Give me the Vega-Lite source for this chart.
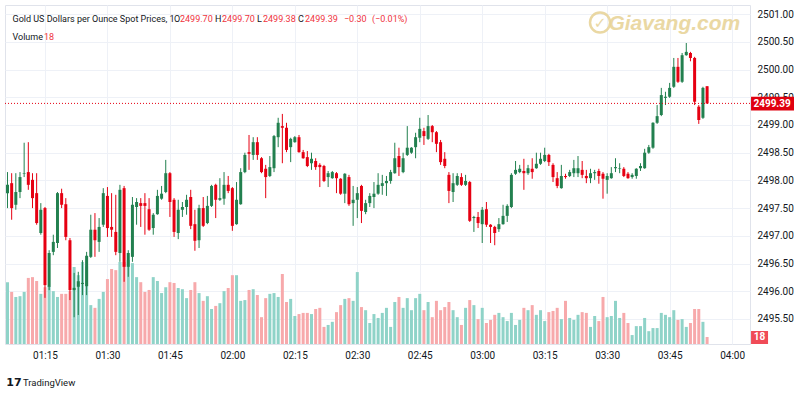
{
"$schema":"https://vega.github.io/schema/vega-lite/v6.json",
"width":745,"height":339,"autosize":"none",
"padding":{"left":5,"top":5,"right":50,"bottom":56},
"background":"#ffffff",
"config":{"view":{"stroke":"#e0e3eb"},"axis":{"labelFont":"Roboto, sans-serif","labelFontSize":10,"labelColor":"#131722","ticks":false,"domain":false,"gridColor":"#eef1f7","gridWidth":1},
 "text":{"font":"Roboto, sans-serif","fontSize":9,"baseline":"middle","align":"left"}},
"datasets":{"candles":[
{"t":"2024-08-20T01:06:00Z","o":2497.77,"h":2498.15,"l":2497.50,"c":2497.92,"v":159},
{"t":"2024-08-20T01:07:00Z","o":2497.95,"h":2498.13,"l":2497.29,"c":2497.50,"v":134},
{"t":"2024-08-20T01:08:00Z","o":2497.56,"h":2498.13,"l":2497.47,"c":2497.79,"v":121},
{"t":"2024-08-20T01:09:00Z","o":2497.79,"h":2498.15,"l":2497.68,"c":2498.06,"v":123},
{"t":"2024-08-20T01:10:00Z","o":2498.12,"h":2498.68,"l":2498.06,"c":2498.13,"v":134},
{"t":"2024-08-20T01:11:00Z","o":2498.15,"h":2498.69,"l":2497.83,"c":2497.92,"v":170},
{"t":"2024-08-20T01:12:00Z","o":2498.01,"h":2498.13,"l":2497.50,"c":2497.68,"v":172},
{"t":"2024-08-20T01:13:00Z","o":2497.77,"h":2498.13,"l":2497.20,"c":2497.23,"v":162},
{"t":"2024-08-20T01:14:00Z","o":2497.05,"h":2497.59,"l":2497.02,"c":2497.47,"v":129},
{"t":"2024-08-20T01:15:00Z","o":2497.50,"h":2497.52,"l":2495.88,"c":2496.11,"v":146},
{"t":"2024-08-20T01:16:00Z","o":2496.08,"h":2496.74,"l":2496.02,"c":2496.69,"v":149},
{"t":"2024-08-20T01:17:00Z","o":2496.71,"h":2497.02,"l":2496.65,"c":2496.89,"v":136},
{"t":"2024-08-20T01:18:00Z","o":2496.87,"h":2497.79,"l":2496.78,"c":2497.77,"v":121},
{"t":"2024-08-20T01:19:00Z","o":2497.77,"h":2497.85,"l":2497.50,"c":2497.56,"v":129},
{"t":"2024-08-20T01:20:00Z","o":2497.57,"h":2497.68,"l":2496.92,"c":2496.98,"v":129},
{"t":"2024-08-20T01:21:00Z","o":2496.92,"h":2496.96,"l":2495.84,"c":2496.02,"v":136},
{"t":"2024-08-20T01:22:00Z","o":2496.02,"h":2496.33,"l":2495.53,"c":2496.06,"v":198},
{"t":"2024-08-20T01:23:00Z","o":2496.08,"h":2496.35,"l":2495.57,"c":2496.18,"v":177},
{"t":"2024-08-20T01:24:00Z","o":2496.13,"h":2496.56,"l":2495.93,"c":2496.15,"v":211},
{"t":"2024-08-20T01:25:00Z","o":2496.09,"h":2496.71,"l":2495.93,"c":2496.64,"v":200},
{"t":"2024-08-20T01:26:00Z","o":2496.62,"h":2497.38,"l":2496.60,"c":2497.11,"v":100},
{"t":"2024-08-20T01:27:00Z","o":2497.11,"h":2497.41,"l":2496.62,"c":2496.92,"v":93},
{"t":"2024-08-20T01:28:00Z","o":2496.89,"h":2497.32,"l":2496.71,"c":2497.16,"v":116},
{"t":"2024-08-20T01:29:00Z","o":2497.20,"h":2497.86,"l":2497.16,"c":2497.77,"v":134},
{"t":"2024-08-20T01:30:00Z","o":2497.72,"h":2497.88,"l":2496.98,"c":2497.14,"v":167},
{"t":"2024-08-20T01:31:00Z","o":2497.16,"h":2497.77,"l":2496.98,"c":2497.11,"v":193},
{"t":"2024-08-20T01:32:00Z","o":2497.07,"h":2497.74,"l":2496.65,"c":2496.71,"v":190},
{"t":"2024-08-20T01:33:00Z","o":2496.69,"h":2497.92,"l":2496.53,"c":2497.83,"v":211},
{"t":"2024-08-20T01:34:00Z","o":2497.86,"h":2497.90,"l":2496.17,"c":2496.44,"v":211},
{"t":"2024-08-20T01:35:00Z","o":2496.44,"h":2496.74,"l":2496.26,"c":2496.69,"v":216},
{"t":"2024-08-20T01:36:00Z","o":2496.62,"h":2497.70,"l":2496.53,"c":2497.56,"v":208},
{"t":"2024-08-20T01:37:00Z","o":2497.52,"h":2497.68,"l":2497.20,"c":2497.61,"v":172},
{"t":"2024-08-20T01:38:00Z","o":2497.59,"h":2497.68,"l":2497.16,"c":2497.54,"v":159},
{"t":"2024-08-20T01:39:00Z","o":2497.59,"h":2497.77,"l":2497.02,"c":2497.54,"v":134},
{"t":"2024-08-20T01:40:00Z","o":2497.48,"h":2497.68,"l":2497.09,"c":2497.11,"v":139},
{"t":"2024-08-20T01:41:00Z","o":2497.14,"h":2497.41,"l":2497.02,"c":2497.38,"v":172},
{"t":"2024-08-20T01:42:00Z","o":2497.39,"h":2497.83,"l":2497.38,"c":2497.72,"v":162},
{"t":"2024-08-20T01:43:00Z","o":2497.67,"h":2497.90,"l":2497.65,"c":2497.76,"v":131},
{"t":"2024-08-20T01:44:00Z","o":2497.79,"h":2498.37,"l":2497.77,"c":2498.13,"v":146},
{"t":"2024-08-20T01:45:00Z","o":2498.13,"h":2498.15,"l":2497.34,"c":2497.61,"v":159},
{"t":"2024-08-20T01:46:00Z","o":2497.65,"h":2497.68,"l":2496.98,"c":2497.07,"v":157},
{"t":"2024-08-20T01:47:00Z","o":2497.05,"h":2497.65,"l":2496.94,"c":2497.47,"v":144},
{"t":"2024-08-20T01:48:00Z","o":2497.47,"h":2497.61,"l":2497.34,"c":2497.52,"v":141},
{"t":"2024-08-20T01:49:00Z","o":2497.52,"h":2497.74,"l":2497.38,"c":2497.65,"v":118},
{"t":"2024-08-20T01:50:00Z","o":2497.70,"h":2497.83,"l":2497.12,"c":2497.18,"v":139},
{"t":"2024-08-20T01:51:00Z","o":2497.21,"h":2497.47,"l":2496.73,"c":2496.91,"v":159},
{"t":"2024-08-20T01:52:00Z","o":2496.92,"h":2497.56,"l":2496.78,"c":2497.50,"v":131},
{"t":"2024-08-20T01:53:00Z","o":2497.50,"h":2497.70,"l":2497.16,"c":2497.18,"v":111},
{"t":"2024-08-20T01:54:00Z","o":2497.23,"h":2497.72,"l":2497.21,"c":2497.54,"v":123},
{"t":"2024-08-20T01:55:00Z","o":2497.54,"h":2497.92,"l":2497.52,"c":2497.90,"v":90},
{"t":"2024-08-20T01:56:00Z","o":2497.92,"h":2497.94,"l":2497.32,"c":2497.65,"v":98},
{"t":"2024-08-20T01:57:00Z","o":2497.65,"h":2498.04,"l":2497.63,"c":2497.68,"v":105},
{"t":"2024-08-20T01:58:00Z","o":2497.67,"h":2498.15,"l":2497.56,"c":2497.92,"v":136},
{"t":"2024-08-20T01:59:00Z","o":2497.92,"h":2498.08,"l":2497.77,"c":2497.81,"v":144},
{"t":"2024-08-20T02:00:00Z","o":2497.86,"h":2497.88,"l":2497.09,"c":2497.18,"v":177},
{"t":"2024-08-20T02:01:00Z","o":2497.21,"h":2497.97,"l":2497.20,"c":2497.65,"v":177},
{"t":"2024-08-20T02:02:00Z","o":2497.57,"h":2498.22,"l":2497.56,"c":2498.15,"v":111},
{"t":"2024-08-20T02:03:00Z","o":2498.15,"h":2498.50,"l":2498.13,"c":2498.46,"v":113},
{"t":"2024-08-20T02:04:00Z","o":2498.51,"h":2498.82,"l":2498.19,"c":2498.48,"v":139},
{"t":"2024-08-20T02:05:00Z","o":2498.46,"h":2498.78,"l":2498.37,"c":2498.69,"v":141},
{"t":"2024-08-20T02:06:00Z","o":2498.69,"h":2498.78,"l":2498.37,"c":2498.46,"v":126},
{"t":"2024-08-20T02:07:00Z","o":2498.40,"h":2498.42,"l":2498.13,"c":2498.15,"v":69},
{"t":"2024-08-20T02:08:00Z","o":2498.21,"h":2498.28,"l":2497.68,"c":2498.06,"v":118},
{"t":"2024-08-20T02:09:00Z","o":2498.08,"h":2498.44,"l":2498.06,"c":2498.24,"v":129},
{"t":"2024-08-20T02:10:00Z","o":2498.22,"h":2498.82,"l":2498.15,"c":2498.80,"v":131},
{"t":"2024-08-20T02:11:00Z","o":2498.78,"h":2499.13,"l":2498.60,"c":2499.04,"v":121},
{"t":"2024-08-20T02:12:00Z","o":2498.98,"h":2499.20,"l":2498.31,"c":2498.95,"v":180},
{"t":"2024-08-20T02:13:00Z","o":2498.95,"h":2499.04,"l":2498.51,"c":2498.55,"v":108},
{"t":"2024-08-20T02:14:00Z","o":2498.60,"h":2498.77,"l":2498.33,"c":2498.75,"v":116},
{"t":"2024-08-20T02:15:00Z","o":2498.69,"h":2498.80,"l":2498.68,"c":2498.78,"v":72},
{"t":"2024-08-20T02:16:00Z","o":2498.78,"h":2498.82,"l":2498.50,"c":2498.51,"v":77},
{"t":"2024-08-20T02:17:00Z","o":2498.51,"h":2498.55,"l":2498.39,"c":2498.40,"v":80},
{"t":"2024-08-20T02:18:00Z","o":2498.42,"h":2498.53,"l":2498.24,"c":2498.26,"v":80},
{"t":"2024-08-20T02:19:00Z","o":2498.31,"h":2498.50,"l":2498.19,"c":2498.39,"v":77},
{"t":"2024-08-20T02:20:00Z","o":2498.35,"h":2498.40,"l":2498.19,"c":2498.24,"v":90},
{"t":"2024-08-20T02:21:00Z","o":2498.28,"h":2498.31,"l":2497.88,"c":2498.24,"v":93},
{"t":"2024-08-20T02:22:00Z","o":2498.26,"h":2498.28,"l":2497.97,"c":2497.99,"v":44},
{"t":"2024-08-20T02:23:00Z","o":2498.06,"h":2498.17,"l":2497.88,"c":2498.13,"v":49},
{"t":"2024-08-20T02:24:00Z","o":2498.04,"h":2498.17,"l":2498.03,"c":2498.15,"v":57},
{"t":"2024-08-20T02:25:00Z","o":2498.13,"h":2498.15,"l":2497.77,"c":2498.04,"v":82},
{"t":"2024-08-20T02:26:00Z","o":2498.03,"h":2498.04,"l":2497.74,"c":2497.76,"v":100},
{"t":"2024-08-20T02:27:00Z","o":2497.76,"h":2498.13,"l":2497.59,"c":2498.12,"v":116},
{"t":"2024-08-20T02:28:00Z","o":2498.06,"h":2498.10,"l":2497.54,"c":2497.57,"v":118},
{"t":"2024-08-20T02:29:00Z","o":2497.59,"h":2497.90,"l":2497.18,"c":2497.65,"v":111},
{"t":"2024-08-20T02:30:00Z","o":2497.65,"h":2497.88,"l":2497.32,"c":2497.77,"v":185},
{"t":"2024-08-20T02:31:00Z","o":2497.90,"h":2497.92,"l":2497.23,"c":2497.45,"v":95},
{"t":"2024-08-20T02:32:00Z","o":2497.43,"h":2497.65,"l":2497.39,"c":2497.59,"v":87},
{"t":"2024-08-20T02:33:00Z","o":2497.59,"h":2497.77,"l":2497.52,"c":2497.72,"v":54},
{"t":"2024-08-20T02:34:00Z","o":2497.70,"h":2497.97,"l":2497.50,"c":2497.76,"v":77},
{"t":"2024-08-20T02:35:00Z","o":2497.76,"h":2498.13,"l":2497.74,"c":2497.92,"v":67},
{"t":"2024-08-20T02:36:00Z","o":2497.90,"h":2498.10,"l":2497.74,"c":2497.95,"v":80},
{"t":"2024-08-20T02:37:00Z","o":2497.95,"h":2498.08,"l":2497.72,"c":2497.99,"v":93},
{"t":"2024-08-20T02:38:00Z","o":2497.99,"h":2498.19,"l":2497.94,"c":2498.15,"v":44},
{"t":"2024-08-20T02:39:00Z","o":2498.13,"h":2498.68,"l":2498.12,"c":2498.40,"v":108},
{"t":"2024-08-20T02:40:00Z","o":2498.44,"h":2498.59,"l":2498.08,"c":2498.24,"v":121},
{"t":"2024-08-20T02:41:00Z","o":2498.15,"h":2498.50,"l":2498.13,"c":2498.40,"v":93},
{"t":"2024-08-20T02:42:00Z","o":2498.46,"h":2498.98,"l":2498.44,"c":2498.59,"v":118},
{"t":"2024-08-20T02:43:00Z","o":2498.50,"h":2498.60,"l":2498.48,"c":2498.59,"v":87},
{"t":"2024-08-20T02:44:00Z","o":2498.60,"h":2498.86,"l":2498.40,"c":2498.78,"v":118},
{"t":"2024-08-20T02:45:00Z","o":2498.77,"h":2499.13,"l":2498.69,"c":2498.93,"v":129},
{"t":"2024-08-20T02:46:00Z","o":2498.89,"h":2498.95,"l":2498.64,"c":2498.80,"v":87},
{"t":"2024-08-20T02:47:00Z","o":2498.75,"h":2499.18,"l":2498.73,"c":2498.98,"v":108},
{"t":"2024-08-20T02:48:00Z","o":2498.98,"h":2499.00,"l":2498.69,"c":2498.87,"v":69},
{"t":"2024-08-20T02:49:00Z","o":2498.87,"h":2498.89,"l":2498.51,"c":2498.66,"v":111},
{"t":"2024-08-20T02:50:00Z","o":2498.69,"h":2498.73,"l":2498.28,"c":2498.33,"v":87},
{"t":"2024-08-20T02:51:00Z","o":2498.39,"h":2498.51,"l":2498.22,"c":2498.26,"v":95},
{"t":"2024-08-20T02:52:00Z","o":2498.10,"h":2498.15,"l":2497.59,"c":2497.81,"v":108},
{"t":"2024-08-20T02:53:00Z","o":2497.79,"h":2498.13,"l":2497.61,"c":2497.95,"v":87},
{"t":"2024-08-20T02:54:00Z","o":2497.92,"h":2498.13,"l":2497.90,"c":2498.08,"v":69},
{"t":"2024-08-20T02:55:00Z","o":2498.06,"h":2498.13,"l":2497.90,"c":2497.92,"v":49},
{"t":"2024-08-20T02:56:00Z","o":2497.92,"h":2498.10,"l":2497.90,"c":2497.99,"v":93},
{"t":"2024-08-20T02:57:00Z","o":2497.97,"h":2497.99,"l":2497.25,"c":2497.27,"v":113},
{"t":"2024-08-20T02:58:00Z","o":2497.32,"h":2497.36,"l":2497.07,"c":2497.34,"v":100},
{"t":"2024-08-20T02:59:00Z","o":2497.34,"h":2497.43,"l":2497.14,"c":2497.23,"v":64},
{"t":"2024-08-20T03:00:00Z","o":2497.21,"h":2497.52,"l":2496.87,"c":2497.47,"v":93},
{"t":"2024-08-20T03:01:00Z","o":2497.48,"h":2497.61,"l":2497.16,"c":2497.20,"v":54},
{"t":"2024-08-20T03:02:00Z","o":2497.20,"h":2497.21,"l":2496.87,"c":2497.16,"v":62},
{"t":"2024-08-20T03:03:00Z","o":2497.16,"h":2497.18,"l":2496.83,"c":2497.05,"v":75},
{"t":"2024-08-20T03:04:00Z","o":2497.12,"h":2497.32,"l":2497.07,"c":2497.21,"v":80},
{"t":"2024-08-20T03:05:00Z","o":2497.21,"h":2497.56,"l":2497.20,"c":2497.36,"v":69},
{"t":"2024-08-20T03:06:00Z","o":2497.36,"h":2497.57,"l":2497.25,"c":2497.54,"v":59},
{"t":"2024-08-20T03:07:00Z","o":2497.52,"h":2498.13,"l":2497.50,"c":2498.10,"v":80},
{"t":"2024-08-20T03:08:00Z","o":2498.12,"h":2498.35,"l":2498.10,"c":2498.19,"v":49},
{"t":"2024-08-20T03:09:00Z","o":2498.15,"h":2498.28,"l":2498.13,"c":2498.21,"v":62},
{"t":"2024-08-20T03:10:00Z","o":2498.17,"h":2498.39,"l":2497.83,"c":2498.13,"v":93},
{"t":"2024-08-20T03:11:00Z","o":2498.13,"h":2498.28,"l":2498.10,"c":2498.22,"v":87},
{"t":"2024-08-20T03:12:00Z","o":2498.21,"h":2498.40,"l":2498.03,"c":2498.15,"v":100},
{"t":"2024-08-20T03:13:00Z","o":2498.22,"h":2498.50,"l":2498.21,"c":2498.30,"v":75},
{"t":"2024-08-20T03:14:00Z","o":2498.30,"h":2498.50,"l":2498.28,"c":2498.39,"v":87},
{"t":"2024-08-20T03:15:00Z","o":2498.35,"h":2498.59,"l":2498.33,"c":2498.46,"v":59},
{"t":"2024-08-20T03:16:00Z","o":2498.46,"h":2498.48,"l":2498.26,"c":2498.33,"v":82},
{"t":"2024-08-20T03:17:00Z","o":2498.28,"h":2498.31,"l":2497.97,"c":2498.06,"v":85},
{"t":"2024-08-20T03:18:00Z","o":2498.04,"h":2498.15,"l":2497.86,"c":2497.90,"v":93},
{"t":"2024-08-20T03:19:00Z","o":2497.86,"h":2498.28,"l":2497.85,"c":2498.08,"v":64},
{"t":"2024-08-20T03:20:00Z","o":2498.08,"h":2498.12,"l":2498.03,"c":2498.06,"v":111},
{"t":"2024-08-20T03:21:00Z","o":2498.08,"h":2498.19,"l":2498.06,"c":2498.15,"v":67},
{"t":"2024-08-20T03:22:00Z","o":2498.13,"h":2498.37,"l":2498.06,"c":2498.22,"v":62},
{"t":"2024-08-20T03:23:00Z","o":2498.13,"h":2498.44,"l":2498.06,"c":2498.22,"v":75},
{"t":"2024-08-20T03:24:00Z","o":2498.19,"h":2498.35,"l":2498.04,"c":2498.10,"v":82},
{"t":"2024-08-20T03:25:00Z","o":2498.08,"h":2498.19,"l":2497.95,"c":2498.04,"v":80},
{"t":"2024-08-20T03:26:00Z","o":2498.04,"h":2498.21,"l":2497.95,"c":2498.13,"v":44},
{"t":"2024-08-20T03:27:00Z","o":2498.13,"h":2498.19,"l":2498.01,"c":2498.15,"v":72},
{"t":"2024-08-20T03:28:00Z","o":2498.17,"h":2498.21,"l":2497.94,"c":2498.08,"v":59},
{"t":"2024-08-20T03:29:00Z","o":2498.12,"h":2498.15,"l":2497.67,"c":2498.03,"v":121},
{"t":"2024-08-20T03:30:00Z","o":2498.01,"h":2498.13,"l":2497.76,"c":2498.08,"v":69},
{"t":"2024-08-20T03:31:00Z","o":2498.04,"h":2498.24,"l":2498.03,"c":2498.13,"v":72},
{"t":"2024-08-20T03:32:00Z","o":2498.22,"h":2498.40,"l":2498.15,"c":2498.24,"v":111},
{"t":"2024-08-20T03:33:00Z","o":2498.21,"h":2498.31,"l":2498.13,"c":2498.22,"v":67},
{"t":"2024-08-20T03:34:00Z","o":2498.21,"h":2498.24,"l":2498.06,"c":2498.08,"v":80},
{"t":"2024-08-20T03:35:00Z","o":2498.12,"h":2498.15,"l":2498.03,"c":2498.04,"v":54},
{"t":"2024-08-20T03:36:00Z","o":2498.06,"h":2498.13,"l":2498.03,"c":2498.10,"v":23},
{"t":"2024-08-20T03:37:00Z","o":2498.08,"h":2498.22,"l":2498.03,"c":2498.21,"v":46},
{"t":"2024-08-20T03:38:00Z","o":2498.22,"h":2498.31,"l":2498.17,"c":2498.26,"v":46},
{"t":"2024-08-20T03:39:00Z","o":2498.22,"h":2498.57,"l":2498.21,"c":2498.50,"v":67},
{"t":"2024-08-20T03:40:00Z","o":2498.50,"h":2498.64,"l":2498.48,"c":2498.60,"v":33},
{"t":"2024-08-20T03:41:00Z","o":2498.59,"h":2499.05,"l":2498.57,"c":2499.04,"v":41},
{"t":"2024-08-20T03:42:00Z","o":2499.04,"h":2499.36,"l":2499.02,"c":2499.16,"v":41},
{"t":"2024-08-20T03:43:00Z","o":2499.18,"h":2499.67,"l":2499.16,"c":2499.54,"v":80},
{"t":"2024-08-20T03:44:00Z","o":2499.49,"h":2499.60,"l":2499.36,"c":2499.51,"v":75},
{"t":"2024-08-20T03:45:00Z","o":2499.51,"h":2499.76,"l":2499.49,"c":2499.67,"v":69},
{"t":"2024-08-20T03:46:00Z","o":2499.69,"h":2500.21,"l":2499.67,"c":2500.05,"v":87},
{"t":"2024-08-20T03:47:00Z","o":2500.05,"h":2500.21,"l":2499.76,"c":2499.78,"v":62},
{"t":"2024-08-20T03:48:00Z","o":2499.78,"h":2500.30,"l":2499.76,"c":2500.26,"v":64},
{"t":"2024-08-20T03:49:00Z","o":2500.26,"h":2500.48,"l":2500.25,"c":2500.32,"v":44},
{"t":"2024-08-20T03:50:00Z","o":2500.30,"h":2500.32,"l":2500.15,"c":2500.21,"v":54},
{"t":"2024-08-20T03:51:00Z","o":2500.21,"h":2500.23,"l":2499.36,"c":2499.42,"v":90},
{"t":"2024-08-20T03:52:00Z","o":2499.33,"h":2499.36,"l":2499.02,"c":2499.09,"v":90},
{"t":"2024-08-20T03:53:00Z","o":2499.13,"h":2499.69,"l":2499.11,"c":2499.67,"v":57},
{"t":"2024-08-20T03:54:00Z","o":2499.70,"h":2499.70,"l":2499.38,"c":2499.39,"v":18}
]},
"layer":[
 {"data":{"name":"candles"},"mark":{"type":"bar","size":3},
  "encoding":{
   "x":{"field":"t","type":"temporal","scale":{"type":"utc","domain":[1724115924000,1724126658000],"padding":0},"axis":{"labelExpr":"utcFormat(datum.value, '%H:%M')","values":[1724116500000,1724117400000,1724118300000,1724119200000,1724120100000,1724121000000,1724121900000,1724122800000,1724123700000,1724124600000,1724125500000,1724126400000],"grid":true,"labelPadding":6,"labelOverlap":false,"title":null,"zindex":0}},
   "y":{"field":"v","type":"quantitative","scale":{"domain":[0,872],"nice":false,"zero":true,"padding":0},"axis":null},
   "color":{"condition":{"test":"datum.c >= datum.o","value":"#8fd3c8"},"value":"#f7a9ab"}}},
 {"data":{"values":[{}]},"mark":{"type":"rect","color":"#f04b57"},
  "encoding":{
   "x":{"datum":1724126673000,"type":"temporal","scale":{"type":"utc","domain":[1724115924000,1724126658000],"padding":0},"axis":null},
   "x2":{"datum":1724126918000},
   "y":{"datum":0,"type":"quantitative","scale":{"domain":[0,872],"nice":false,"zero":true},"axis":null},
   "y2":{"datum":33.5}}},
 {"data":{"values":[{}]},"mark":{"type":"text","text":"18","color":"#ffffff","fontWeight":"bold","fontSize":10,"align":"center"},
  "encoding":{
   "x":{"datum":1724126796000,"type":"temporal","scale":{"type":"utc","domain":[1724115924000,1724126658000],"padding":0},"axis":null},
   "y":{"datum":17,"type":"quantitative","scale":{"domain":[0,872],"nice":false,"zero":true},"axis":null}}},
 {"data":{"name":"candles"},"mark":{"type":"rule","strokeWidth":1},
  "encoding":{
   "x":{"field":"t","type":"temporal","scale":{"type":"utc","domain":[1724115924000,1724126658000],"padding":0},"axis":null},
   "y":{"field":"l","type":"quantitative","scale":{"domain":[2495.047,2501.166],"nice":false,"zero":false},"axis":{"orient":"right","values":[2495.5,2496,2496.5,2497,2497.5,2498,2498.5,2499,2499.5,2500,2500.5,2501],"format":".2f","grid":true,"labelPadding":7,"labelOverlap":false,"title":null,"zindex":0}},
   "y2":{"field":"h"},
   "color":{"condition":{"test":"datum.c >= datum.o","value":"#22804f"},"value":"#e60012"}}},
 {"data":{"name":"candles"},"mark":{"type":"bar","size":3},
  "encoding":{
   "x":{"field":"t","type":"temporal","scale":{"type":"utc","domain":[1724115924000,1724126658000],"padding":0},"axis":null},
   "y":{"field":"o","type":"quantitative","scale":{"domain":[2495.047,2501.166],"nice":false,"zero":false},"axis":null},
   "y2":{"field":"c"},
   "color":{"condition":{"test":"datum.c >= datum.o","value":"#22804f"},"value":"#e60012"}}},
 {"data":{"values":[{}]},"mark":{"type":"rule","color":"#e60012","strokeDash":[1,2],"strokeWidth":1},
  "encoding":{"y":{"datum":2499.39,"type":"quantitative","scale":{"domain":[2495.047,2501.166],"nice":false,"zero":false},"axis":null}}},
 {"data":{"values":[{}]},"mark":{"type":"rect","color":"#e0000f"},
  "encoding":{
   "x":{"datum":1724126673000,"type":"temporal","scale":{"type":"utc","domain":[1724115924000,1724126658000],"padding":0},"axis":null},
   "x2":{"datum":1724127292000},
   "y":{"datum":2499.51,"type":"quantitative","scale":{"domain":[2495.047,2501.166],"nice":false,"zero":false},"axis":null},
   "y2":{"datum":2499.26}}},
 {"data":{"values":[{}]},"mark":{"type":"text","text":"2499.39","color":"#ffffff","fontWeight":"bold","fontSize":10,"align":"center"},
  "encoding":{"x":{"datum":1724126976000,"type":"temporal","scale":{"type":"utc","domain":[1724115924000,1724126658000],"padding":0},"axis":null},"y":{"datum":2499.385,"type":"quantitative","scale":{"domain":[2495.047,2501.166],"nice":false,"zero":false},"axis":null}}},
 {"data":{"values":[{}]},"mark":{"type":"text","text":"Gold US Dollars per Ounce Spot Prices, 1","color":"#131722"},
  "encoding":{"x":{"datum":1724116032000,"type":"temporal","scale":{"type":"utc","domain":[1724115924000,1724126658000],"padding":0},"axis":null},"y":{"datum":2500.913,"type":"quantitative","scale":{"domain":[2495.047,2501.166],"nice":false,"zero":false},"axis":null}}},
 {"data":{"values":[{}]},"mark":{"type":"text","text":"O","color":"#131722"},
  "encoding":{"x":{"datum":1724118358000,"type":"temporal","scale":{"type":"utc","domain":[1724115924000,1724126658000],"padding":0},"axis":null},"y":{"datum":2500.913,"type":"quantitative","scale":{"domain":[2495.047,2501.166],"nice":false,"zero":false},"axis":null}}},
 {"data":{"values":[{}]},"mark":{"type":"text","text":"2499.70","color":"#ef3340"},
  "encoding":{"x":{"datum":1724118445000,"type":"temporal","scale":{"type":"utc","domain":[1724115924000,1724126658000],"padding":0},"axis":null},"y":{"datum":2500.913,"type":"quantitative","scale":{"domain":[2495.047,2501.166],"nice":false,"zero":false},"axis":null}}},
 {"data":{"values":[{}]},"mark":{"type":"text","text":"H","color":"#131722"},
  "encoding":{"x":{"datum":1724118949000,"type":"temporal","scale":{"type":"utc","domain":[1724115924000,1724126658000],"padding":0},"axis":null},"y":{"datum":2500.913,"type":"quantitative","scale":{"domain":[2495.047,2501.166],"nice":false,"zero":false},"axis":null}}},
 {"data":{"values":[{}]},"mark":{"type":"text","text":"2499.70","color":"#ef3340"},
  "encoding":{"x":{"datum":1724119051000,"type":"temporal","scale":{"type":"utc","domain":[1724115924000,1724126658000],"padding":0},"axis":null},"y":{"datum":2500.913,"type":"quantitative","scale":{"domain":[2495.047,2501.166],"nice":false,"zero":false},"axis":null}}},
 {"data":{"values":[{}]},"mark":{"type":"text","text":"L","color":"#131722"},
  "encoding":{"x":{"datum":1724119554000,"type":"temporal","scale":{"type":"utc","domain":[1724115924000,1724126658000],"padding":0},"axis":null},"y":{"datum":2500.913,"type":"quantitative","scale":{"domain":[2495.047,2501.166],"nice":false,"zero":false},"axis":null}}},
 {"data":{"values":[{}]},"mark":{"type":"text","text":"2499.38","color":"#ef3340"},
  "encoding":{"x":{"datum":1724119641000,"type":"temporal","scale":{"type":"utc","domain":[1724115924000,1724126658000],"padding":0},"axis":null},"y":{"datum":2500.913,"type":"quantitative","scale":{"domain":[2495.047,2501.166],"nice":false,"zero":false},"axis":null}}},
 {"data":{"values":[{}]},"mark":{"type":"text","text":"C","color":"#131722"},
  "encoding":{"x":{"datum":1724120145000,"type":"temporal","scale":{"type":"utc","domain":[1724115924000,1724126658000],"padding":0},"axis":null},"y":{"datum":2500.913,"type":"quantitative","scale":{"domain":[2495.047,2501.166],"nice":false,"zero":false},"axis":null}}},
 {"data":{"values":[{}]},"mark":{"type":"text","text":"2499.39","color":"#ef3340"},
  "encoding":{"x":{"datum":1724120247000,"type":"temporal","scale":{"type":"utc","domain":[1724115924000,1724126658000],"padding":0},"axis":null},"y":{"datum":2500.913,"type":"quantitative","scale":{"domain":[2495.047,2501.166],"nice":false,"zero":false},"axis":null}}},
 {"data":{"values":[{}]},"mark":{"type":"text","text":"−0.30","color":"#ef3340"},
  "encoding":{"x":{"datum":1724120808000,"type":"temporal","scale":{"type":"utc","domain":[1724115924000,1724126658000],"padding":0},"axis":null},"y":{"datum":2500.913,"type":"quantitative","scale":{"domain":[2495.047,2501.166],"nice":false,"zero":false},"axis":null}}},
 {"data":{"values":[{}]},"mark":{"type":"text","text":"(−0.01%)","color":"#ef3340"},
  "encoding":{"x":{"datum":1724121211000,"type":"temporal","scale":{"type":"utc","domain":[1724115924000,1724126658000],"padding":0},"axis":null},"y":{"datum":2500.913,"type":"quantitative","scale":{"domain":[2495.047,2501.166],"nice":false,"zero":false},"axis":null}}},
 {"data":{"values":[{}]},"mark":{"type":"text","text":"Volume","color":"#131722"},
  "encoding":{"x":{"datum":1724116032000,"type":"temporal","scale":{"type":"utc","domain":[1724115924000,1724126658000],"padding":0},"axis":null},"y":{"datum":2500.588,"type":"quantitative","scale":{"domain":[2495.047,2501.166],"nice":false,"zero":false},"axis":null}}},
 {"data":{"values":[{}]},"mark":{"type":"text","text":"18","color":"#ef3340"},
  "encoding":{"x":{"datum":1724116486000,"type":"temporal","scale":{"type":"utc","domain":[1724115924000,1724126658000],"padding":0},"axis":null},"y":{"datum":2500.588,"type":"quantitative","scale":{"domain":[2495.047,2501.166],"nice":false,"zero":false},"axis":null}}},
 {"data":{"values":[{}]},"mark":{"type":"text","text":"Giavang.com","color":"#e8d49a","opacity":0.9,"fontSize":21,"fontWeight":"bold","fontStyle":"italic","font":"Liberation Sans, sans-serif","align":"center"},
  "encoding":{"x":{"datum":1724125568000,"type":"temporal","scale":{"type":"utc","domain":[1724115924000,1724126658000],"padding":0},"axis":null},"y":{"datum":2500.823,"type":"quantitative","scale":{"domain":[2495.047,2501.166],"nice":false,"zero":false},"axis":null}}},
 {"data":{"values":[{}]},"mark":{"type":"point","shape":"circle","filled":false,"size":400,"strokeWidth":2.5,"color":"#e8d49a","opacity":0.9},
  "encoding":{"x":{"datum":1724124497000,"type":"temporal","scale":{"type":"utc","domain":[1724115924000,1724126658000],"padding":0},"axis":null},"y":{"datum":2500.85,"type":"quantitative","scale":{"domain":[2495.047,2501.166],"nice":false,"zero":false},"axis":null}}},
 {"data":{"values":[{}]},"mark":{"type":"text","text":"✓","color":"#e8d49a","opacity":0.9,"fontSize":15,"fontWeight":"bold","font":"DejaVu Sans, sans-serif","align":"center"},
  "encoding":{"x":{"datum":1724124497000,"type":"temporal","scale":{"type":"utc","domain":[1724115924000,1724126658000],"padding":0},"axis":null},"y":{"datum":2500.85,"type":"quantitative","scale":{"domain":[2495.047,2501.166],"nice":false,"zero":false},"axis":null}}},
 {"data":{"values":[{}]},"mark":{"type":"text","text":"17","color":"#131722","fontSize":11,"fontWeight":900,"font":"DejaVu Sans, sans-serif","align":"center"},
  "encoding":{"x":{"datum":1724116054000,"type":"temporal","scale":{"type":"utc","domain":[1724115924000,1724126658000],"padding":0},"axis":null},"y":{"datum":2494.343,"type":"quantitative","scale":{"domain":[2495.047,2501.166],"nice":false,"zero":false},"axis":null}}},
 {"data":{"values":[{}]},"mark":{"type":"text","text":"TradingView","color":"#131722","fontSize":9.5},
  "encoding":{"x":{"datum":1724116183000,"type":"temporal","scale":{"type":"utc","domain":[1724115924000,1724126658000],"padding":0},"axis":null},"y":{"datum":2494.343,"type":"quantitative","scale":{"domain":[2495.047,2501.166],"nice":false,"zero":false},"axis":null}}}
]
,
"resolve":{"scale":{"x":"independent","y":"independent"},"axis":{"x":"independent","y":"independent"}}
}
